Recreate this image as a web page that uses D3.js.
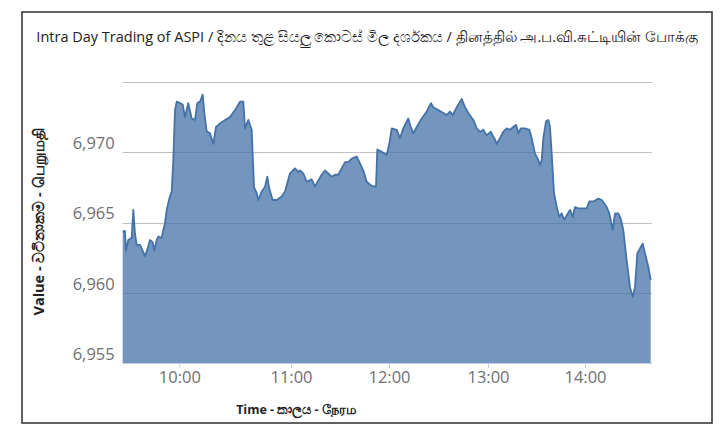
<!DOCTYPE html>
<html><head><meta charset="utf-8">
<script src="https://cdn.jsdelivr.net/npm/d3@7"></script>
<style>
html,body{margin:0;padding:0;background:#fff;}
svg{display:block;}
</style></head>
<body>
<svg id="chart" width="720" height="432"></svg>
<script>
const titleText = "Intra Day Trading of ASPI / දිනය තුළ සියලු කොටස් මිල දර්ශකය  / தினத்தில்  அ.ப.வி.சுட்டியின் போக்கு";
const yTitle = "Value - වටිනාකම - பெறுமதி";
const xTitle = "Time - කාලය - நேரம";
const yTicks = [6955, 6960, 6965, 6970];
const yGrid = [6955, 6960, 6965, 6970, 6975];
const xTickLabels = ["10:00", "11:00", "12:00", "13:00", "14:00"];
const xBreaks = ["09:30:00", "10:00:00", "11:00:00", "12:00:00", "13:00:00", "14:00:00", "14:40:00"];

const times = ["09:30:00","09:31:13","09:31:45","09:32:58","09:34:46","09:35:37","09:36:31","09:37:25","09:39:10","09:40:04",
"09:41:49","09:43:34","09:44:28","09:45:54","09:46:45","09:48:00","09:48:52","09:50:40","09:51:31","09:52:25",
"09:53:19","09:54:42","09:55:58","09:56:49","09:57:43","09:58:37","10:00:23","10:01:50","10:03:04","10:04:50",
"10:06:40","10:08:26","10:09:40","10:11:07","10:12:34","10:13:26","10:14:43","10:16:29","10:18:16","10:19:43",
"10:21:52","10:24:33","10:27:14","10:29:55","10:32:37","10:34:23","10:35:18","10:37:04","10:38:53","10:40:08",
"10:41:35","10:42:26","10:44:16","10:46:02","10:47:16","10:48:21","10:50:10","10:52:19","10:55:01","10:56:47",
"10:59:28","11:02:27","11:04:28","11:05:31","11:07:32","11:09:37","11:12:40","11:14:41","11:16:43","11:18:47",
"11:20:49","11:22:50","11:24:55","11:26:56","11:28:58","11:31:02","11:33:04","11:35:05","11:37:10","11:40:13",
"11:42:14","11:44:16","11:46:21","11:49:25","11:52:02","11:52:50","11:55:32","11:58:35","12:00:11","12:01:38",
"12:04:40","12:06:40","12:08:40","12:11:42","12:13:09","12:14:44","12:16:47","12:19:49","12:22:51","12:25:27",
"12:26:51","12:29:53","12:32:55","12:34:58","12:36:58","12:38:37","12:41:02","12:44:04","12:46:04","12:48:04",
"12:51:05","12:53:09","12:55:09","12:57:09","12:59:13","13:01:40","13:04:20","13:05:23","13:07:25","13:09:28",
"13:11:34","13:13:37","13:15:39","13:17:19","13:18:45","13:20:14","13:22:53","13:25:33","13:27:02","13:29:04",
"13:30:44","13:32:10","13:33:13","13:34:13","13:35:53","13:37:18","13:38:21","13:39:24","13:40:49","13:42:30",
"13:44:06","13:45:35","13:47:01","13:48:41","13:50:43","13:52:23","13:53:49","13:55:51","13:58:57","14:01:02",
"14:02:37","14:05:02","14:08:04","14:10:07","14:13:09","14:14:44","14:16:47","14:18:11","14:20:11","14:21:49",
"14:23:13","14:25:16","14:27:16","14:28:55","14:30:18","14:31:42","14:33:20","14:34:58","14:36:22","14:38:22",
"14:39:49"];
const values = [6964.35,6964.4,6963.0,6963.75,6963.9,6965.9,6964.2,6963.4,6963.4,6963.15,
6962.6,6963.3,6963.75,6963.6,6963.0,6963.75,6964.0,6963.9,6964.47,6964.95,
6965.9,6966.7,6967.2,6969.45,6973.0,6973.6,6973.5,6973.4,6972.5,6973.5,
6972.4,6972.3,6973.5,6973.6,6974.1,6972.8,6971.5,6971.35,6970.6,6971.8,
6972.05,6972.3,6972.5,6973.0,6973.6,6973.6,6971.7,6972.3,6971.6,6967.5,
6967.1,6966.6,6967.2,6967.55,6968.26,6967.4,6966.6,6966.6,6966.85,6967.2,
6968.5,6968.86,6968.6,6968.7,6968.5,6967.9,6968.07,6967.55,6968.0,6968.4,
6968.7,6968.5,6968.26,6968.4,6968.4,6968.85,6969.3,6969.3,6969.55,6969.7,
6969.2,6968.7,6967.9,6967.6,6967.55,6970.2,6970.04,6969.8,6970.6,6971.7,
6971.6,6971.0,6971.7,6972.4,6971.8,6971.35,6971.8,6972.4,6972.9,6973.5,
6973.2,6973.0,6972.8,6972.65,6972.9,6972.65,6973.2,6973.8,6973.2,6972.8,
6972.3,6971.7,6971.46,6971.6,6971.2,6971.46,6970.9,6970.6,6971.0,6971.46,
6971.7,6971.6,6971.8,6971.95,6971.35,6971.7,6971.7,6971.6,6971.0,6969.9,
6969.55,6969.1,6969.45,6971.0,6972.2,6972.3,6971.8,6969.9,6967.1,6966.1,
6965.4,6965.65,6965.2,6965.5,6965.9,6965.4,6966.1,6966.0,6966.0,6966.0,
6966.5,6966.5,6966.7,6966.6,6966.1,6965.65,6964.47,6965.65,6965.65,6965.2,
6964.47,6962.3,6960.4,6959.7,6960.4,6962.8,6963.15,6963.5,6962.8,6961.85,
6960.9];

const parse = d3.timeParse("%H:%M:%S");
const data = times.map((t, i) => ({t: parse(t), v: values[i]}));

const svg = d3.select("#chart");
const plot = {left: 122.7, right: 651, top: 82, bottom: 363};

// x: ordinal-like (Highstock) axis expressed as a piecewise time scale
const x = d3.scaleTime()
  .domain(xBreaks.map(parse))
  .range([plot.left, 179.3, 291, 389, 488, 585, plot.right]);
const y = d3.scaleLinear().domain([6955, 6975]).range([plot.bottom, plot.top]);

// outer frame
svg.append("rect").attr("x", 22).attr("y", 12).attr("width", 690).attr("height", 411)
  .attr("fill", "#fff").attr("stroke", "#3a3a3a").attr("stroke-width", 1.6);

// gridlines
svg.append("g").selectAll("line").data(yGrid).join("line")
  .attr("x1", plot.left).attr("x2", plot.right + 1)
  .attr("y1", d => Math.round(y(d)) + 0.5).attr("y2", d => Math.round(y(d)) + 0.5)
  .attr("stroke", "#c0c0c0").attr("stroke-width", 1);

// area
const area = d3.area().x(d => x(d.t)).y0(plot.bottom).y1(d => y(d.v));
svg.append("path").datum(data).attr("d", area)
  .attr("fill", "#4572a7").attr("fill-opacity", 0.75);
const line = d3.line().x(d => x(d.t)).y(d => y(d.v));
svg.append("path").datum(data).attr("d", line)
  .attr("fill", "none").attr("stroke", "#4572a7").attr("stroke-width", 1.8)
  .attr("stroke-linejoin", "round");

// x axis
const xTickDates = xTickLabels.map(s => parse(s + ":00"));
const xAxis = d3.axisBottom(x).tickValues(xTickDates).tickSize(5).tickPadding(3)
  .tickFormat((d, i) => xTickLabels[i]);
const gx = svg.append("g").attr("transform", `translate(0,${plot.bottom})`).call(xAxis);
gx.select(".domain").attr("stroke", "#c0d0e0").attr("d", `M${plot.left},0.5H${plot.right}`);
gx.selectAll(".tick line").attr("stroke", "#c0d0e0");
gx.selectAll(".tick text").attr("fill", "#707070").attr("font-family", "Open Sans, sans-serif")
  .attr("font-size", 16.5);

// y axis labels
const yAxis = d3.axisLeft(y).tickValues(yTicks).tickSize(0).tickPadding(8)
  .tickFormat(d3.format(","));
const gy = svg.append("g").attr("transform", `translate(${plot.left},0)`).call(yAxis);
gy.select(".domain").remove();
gy.selectAll(".tick text").attr("fill", "#707070").attr("font-family", "Open Sans, sans-serif")
  .attr("font-size", 16.5).attr("dy", "-0.22em");

// title
svg.append("text").attr("x", 367).attr("y", 42).attr("text-anchor", "middle")
  .attr("font-family", "Open Sans, sans-serif").attr("font-size", 14.5).attr("fill", "#222")
  .text(titleText);

// axis titles
svg.append("text").attr("x", 296).attr("y", 414).attr("text-anchor", "middle")
  .attr("font-family", "Open Sans, sans-serif").attr("font-weight", "bold").attr("font-size", 12.5)
  .attr("fill", "#222").text(xTitle);
svg.append("text").attr("transform", "translate(44,222) rotate(-90)").attr("text-anchor", "middle")
  .attr("font-family", "Open Sans, sans-serif").attr("font-weight", "bold").attr("font-size", 14.5)
  .attr("fill", "#222").text(yTitle);
</script>
</body></html>
